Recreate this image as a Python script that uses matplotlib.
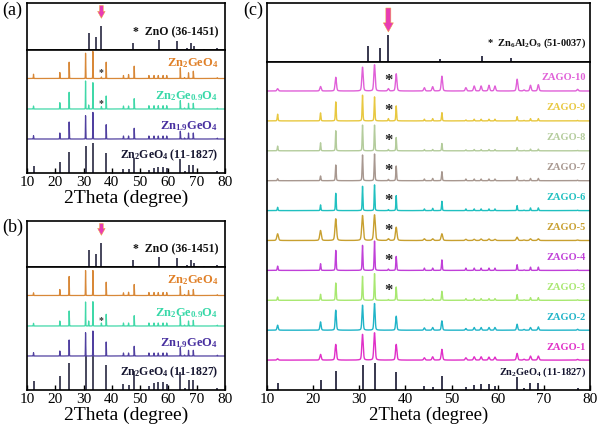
import numpy as np
import matplotlib
matplotlib.use("Agg")
import matplotlib.pyplot as plt

plt.rcParams.update({
    'font.family': 'Liberation Serif',
    'mathtext.fontset': 'custom',
    'mathtext.rm': 'Liberation Serif',
    'mathtext.it': 'Liberation Serif:italic',
    'mathtext.bf': 'Liberation Serif:bold',
})

# ---------------- DATA ----------------
# Zn2GeO4 reference (11-1827) peak positions and intensities (a.u.)
peak_2theta = [12.3, 21.6, 24.9, 30.7, 33.3, 38.0, 44.1, 45.9, 47.9, 53.1,
               54.9, 56.4, 58.1, 59.4, 64.2, 65.7, 67.1, 68.8, 77.3]
ref_zn2geo4 = [6.7, 10.0, 19.3, 24.7, 27.3, 18.3, 4.0, 3.3, 14.0, 2.7,
               5.0, 5.7, 5.7, 4.3, 13.3, 1.7, 7.3, 7.3, 1.7]

# ZnO reference (36-1451)
zno_2theta = [31.8, 34.4, 36.3, 47.5, 56.6, 62.9, 66.4, 68.0, 69.1, 72.6, 77.0]
zno_int = [17.0, 13.0, 24.0, 7.0, 9.7, 9.0, 1.5, 7.0, 3.5, 0.8, 1.5]

# Zn6Al2O9 reference (51-0037)
znal_2theta = [31.8, 34.4, 36.3, 47.5, 56.6, 62.9]
znal_int = [16.3, 13.7, 27.3, 3.3, 6.0, 4.3]

# impurity peak positions (ZnO-type)
imp_2theta = [31.8, 36.3]

# panel (a) samples
a_zn2geo4 = [4.3, 6.0, 16.3, 25.3, 27.0, 16.3, 3.0, 4.0, 12.3, 3.0,
             3.0, 3.0, 3.0, 3.0, 10.7, 1.0, 5.7, 7.3, 0.8]
a_zn2geo4_imp = [0.0, 1.5]
a_zn2ge09o4 = [3.0, 6.3, 16.7, 28.0, 26.3, 13.0, 3.0, 3.0, 10.3, 3.3,
               3.3, 3.3, 3.3, 3.3, 8.3, 1.0, 5.7, 5.7, 0.8]
a_zn2ge09o4_imp = [4.0, 2.5]
a_zn19geo4 = [3.3, 6.0, 17.0, 23.3, 26.6, 14.3, 3.0, 3.0, 10.7, 3.0,
              3.0, 3.0, 3.0, 3.0, 7.7, 1.0, 6.0, 6.0, 0.8]
a_zn19geo4_imp = [0.0, 0.0]

# panel (b) samples
b_zn2geo4 = [2.7, 6.0, 19.0, 25.0, 25.0, 13.3, 2.7, 3.3, 11.0, 3.0,
             3.0, 3.0, 3.0, 3.0, 9.3, 1.0, 5.0, 6.0, 0.8]
b_zn2geo4_imp = [0.0, 0.0]
b_zn2ge09o4 = [2.7, 5.0, 15.0, 24.0, 24.3, 11.7, 3.0, 3.0, 10.3, 3.0,
               3.0, 3.0, 3.0, 3.0, 9.3, 1.0, 5.0, 5.7, 0.8]
b_zn2ge09o4_imp = [5.0, 3.0]
b_zn19geo4 = [3.3, 5.0, 16.0, 23.3, 25.0, 14.0, 3.0, 3.0, 9.7, 3.0,
              3.0, 3.0, 3.0, 3.0, 8.3, 1.0, 5.7, 5.7, 0.8]
b_zn19geo4_imp = [0.0, 0.0]

# panel (c) samples ZAGO-1 ... ZAGO-10
zago_names = ['ZAGO-1', 'ZAGO-2', 'ZAGO-3', 'ZAGO-4', 'ZAGO-5',
              'ZAGO-6', 'ZAGO-7', 'ZAGO-8', 'ZAGO-9', 'ZAGO-10']
zago_1 = [1.3, 5.7, 15.7, 25.7, 27.3, 15.7, 2.3, 3.3, 10.7, 2.3, 3.3, 3.3, 3.0, 3.0, 6.7, 0.8, 4.0, 4.0, 0.7]
zago_2 = [5.0, 8.3, 20.0, 25.0, 26.7, 14.0, 2.3, 2.7, 9.3, 1.7, 2.7, 2.7, 2.7, 2.7, 6.0, 0.8, 2.7, 3.3, 1.0]
zago_3 = [3.3, 6.0, 17.3, 24.0, 26.7, 13.3, 1.0, 1.7, 9.0, 1.7, 1.7, 1.7, 1.7, 1.7, 5.7, 0.5, 2.7, 2.7, 0.5]
zago_4 = [4.3, 6.7, 20.0, 25.0, 29.3, 14.0, 2.3, 2.3, 10.5, 2.3, 2.3, 2.3, 2.3, 2.3, 5.7, 0.5, 3.3, 3.3, 0.5]
zago_5 = [6.7, 10.0, 21.7, 25.0, 25.7, 13.3, 1.7, 1.7, 6.7, 1.2, 1.2, 1.5, 1.5, 1.2, 3.3, 0.5, 1.7, 1.7, 0.5]
zago_6 = [3.3, 5.7, 17.3, 24.3, 25.7, 15.0, 1.7, 2.3, 9.3, 1.7, 1.7, 1.7, 1.7, 1.7, 5.0, 0.5, 2.7, 2.7, 0.5]
zago_7 = [2.0, 4.7, 15.7, 25.7, 26.7, 14.7, 1.7, 2.3, 9.0, 1.7, 1.7, 1.7, 1.7, 1.7, 4.0, 0.5, 2.3, 2.3, 0.5]
zago_8 = [4.7, 8.0, 20.0, 25.7, 25.7, 13.3, 1.3, 1.3, 7.3, 1.0, 1.3, 1.3, 1.3, 1.3, 3.3, 0.5, 1.7, 1.7, 0.5]
zago_9 = [6.7, 8.0, 19.0, 25.7, 24.0, 15.0, 1.7, 2.3, 8.3, 1.0, 1.7, 1.7, 1.7, 1.7, 4.3, 0.5, 2.3, 2.3, 0.5]
zago_10 = [2.3, 4.5, 13.7, 23.8, 26.2, 17.2, 3.3, 4.3, 14.8, 3.3, 5.0, 5.0, 5.7, 5.0, 11.8, 1.0, 5.7, 6.3, 1.7]
zago_imp36 = [0.0, 0.0, 0.8, 1.3, 1.7, 1.0, 1.3, 1.3, 2.3, 2.3]
zago_star = [False, False, True, True, True, True, True, True, True, True]

xticks = [10, 20, 30, 40, 50, 60, 70, 80]

# ---------------- STYLE ----------------
W, H = 600, 433
zago_colors = ['#e030c8', '#20b4c8', '#a8e870', '#c040d8', '#c8a030',
               '#20c0c0', '#a89890', '#b4cc9c', '#e8c840', '#e060d8']
zago_fwhm = [0.35, 0.3, 0.2, 0.2, 0.4, 0.18, 0.2, 0.18, 0.2, 0.35]
ab_colors = ['#5040a0', '#40d8a8', '#d88838']
ab_label_colors = ['#4830a0', '#38d8a8', '#e08028']
ref_color = '#151530'
arrow_fc = '#e83cb4'
arrow_ec = '#f0a830'

x = np.linspace(10, 80, 14001)


def profile(pos, amp, fwhm, eta=0.3):
    y = np.zeros_like(x)
    for p, a in zip(pos, amp):
        d = (x - p) / (fwhm / 2.0)
        y += a * (eta / (1 + d ** 2) + (1 - eta) * np.exp(-np.log(2) * d ** 2))
    return y


def rect(l, t, r, b):
    return [l / W, 1 - b / H, (r - l) / W, (b - t) / H]


fig = plt.figure(figsize=(6.0, 4.33), dpi=100)


def setup(ax, bottom, ylim):
    ax.set_xlim(10, 80)
    ax.set_ylim(0, ylim)
    ax.set_yticks([])
    for s in ax.spines.values():
        s.set_linewidth(1.2)
    if bottom:
        ax.set_xticks(xticks)
        ax.tick_params(axis='x', direction='in', length=3.5, width=1.0,
                       labelsize=11, pad=2)
    else:
        ax.set_xticks([])


def arrow(ax, tail, tip, scale):
    ax.annotate('', xy=(36.3, tip), xytext=(36.3, tail),
                arrowprops=dict(arrowstyle='simple,head_length=0.55,head_width=0.6,tail_width=0.3',
                                fc=arrow_fc, ec=arrow_ec, lw=0.35,
                                shrinkA=0, shrinkB=0, mutation_scale=scale))


def panel_ab(top_rect, bot_rect, top_ylim, samples, imps, stars, ref_scale,
             letter, letter_y):
    axt = fig.add_axes(top_rect)
    setup(axt, False, top_ylim)
    axt.vlines(zno_2theta, 0, zno_int, color=ref_color, lw=1.1)
    arrow(axt, top_ylim - 2.5, 31.4, 9)
    axt.text(77.8, 14.5, '*  ZnO (36-1451)', ha='right', va='baseline',
             fontsize=8.5, fontweight='bold', color='#111111')

    axb = fig.add_axes(bot_rect)
    setup(axb, True, 123.3)
    offsets = [34.0, 64.0, 94.5]
    labels = [r'$\mathbf{Zn_{1.9}GeO_4}$', r'$\mathbf{Zn_2Ge_{0.9}O_4}$',
              r'$\mathbf{Zn_2GeO_4}$']
    label_dy = [10.0, 10.0, 12.0]
    axb.vlines(peak_2theta, 0, np.array(ref_zn2geo4) * ref_scale,
               color=ref_color, lw=1.1)
    axb.text(77.5, 15.0, r'$\mathbf{Zn_2GeO_4}$ (11-1827)', ha='right',
             va='baseline', fontsize=8.5, fontweight='bold', color=ref_color)
    for i, (amp, imp) in enumerate(zip(samples, imps)):
        y = profile(peak_2theta + imp_2theta, list(amp) + list(imp), 0.12, eta=0.1)
        axb.plot(x, y + offsets[i], color=ab_colors[i], lw=0.9)
        axb.text(77.6, offsets[i] + label_dy[i], labels[i], ha='right',
                 va='baseline', fontsize=9, color=ab_label_colors[i])
        if stars[i]:
            axb.text(36.3, offsets[i] + 5.5, '*', ha='center', va='center',
                     fontsize=7, fontweight='bold', color='#333333')
    axb.set_xlabel('2Theta (degree)', fontsize=14, labelpad=1)
    fig.text(2 / W, 1 - letter_y / H, letter, fontsize=13, va='center')
    return axt, axb


panel_ab(rect(27, 3, 225, 49.7), rect(27, 49.7, 225, 173), 46.7,
         [a_zn19geo4, a_zn2ge09o4, a_zn2geo4],
         [a_zn19geo4_imp, a_zn2ge09o4_imp, a_zn2geo4_imp],
         [False, True, True], 1.09, '(a)', 10)
panel_ab(rect(27, 221, 225, 266.7), rect(27, 266.7, 225, 390), 45.7,
         [b_zn19geo4, b_zn2ge09o4, b_zn2geo4],
         [b_zn19geo4_imp, b_zn2ge09o4_imp, b_zn2geo4_imp],
         [False, True, False], 1.38, '(b)', 227)

# ---------------- panel (c) ----------------
axt = fig.add_axes(rect(267, 3.3, 590, 62))
setup(axt, False, 58.7)
axt.vlines(znal_2theta, 0, znal_int, color=ref_color, lw=1.2)
arrow(axt, 54.0, 30.0, 12)
axt.text(79.1, 16.5, r'*  $\mathbf{Zn_6Al_2O_9}$ (51-0037)', ha='right',
         va='baseline', fontsize=7.5, fontweight='bold', color='#111111')

axb = fig.add_axes(rect(267, 62, 590, 390))
setup(axb, True, 328)
axb.vlines(peak_2theta, 0, ref_zn2geo4, color=ref_color, lw=1.2)
axb.text(79.1, 15.0, r'$\mathbf{Zn_2GeO_4}$ (11-1827)', ha='right',
         va='baseline', fontsize=7.5, fontweight='bold', color=ref_color)
zago_data = [zago_1, zago_2, zago_3, zago_4, zago_5,
             zago_6, zago_7, zago_8, zago_9, zago_10]
step = 29.9
for i, amp in enumerate(zago_data):
    off = step * (i + 1)
    y = profile(peak_2theta + [36.3], list(amp) + [zago_imp36[i]], zago_fwhm[i])
    axb.plot(x, y + off, color=zago_colors[i], lw=1.0)
    axb.text(79.1, off + 10.5, zago_names[i], ha='right', va='baseline',
             fontsize=7.5, fontweight='bold', color=zago_colors[i])
    if zago_star[i]:
        axb.text(36.3, off + 9.5, '*', ha='center', va='center',
                 fontsize=12, fontweight='bold', color='#222222')
axb.set_xlabel('2Theta (degree)', fontsize=13.5, labelpad=1)
fig.text(243 / W, 1 - 10 / H, '(c)', fontsize=13, va='center')

fig.savefig('out.png', dpi=100)
